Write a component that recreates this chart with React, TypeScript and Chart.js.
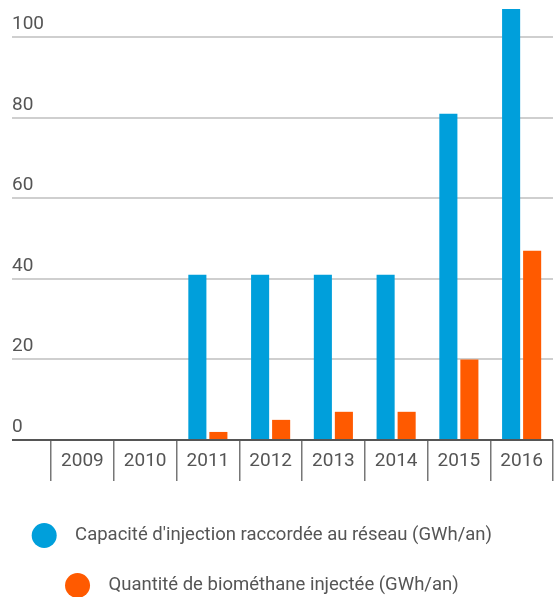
import React, { useEffect, useRef } from "react";
import { Chart, registerables } from "chart.js";

Chart.register(...registerables);

// ---- data ----
const years = ["2009", "2010", "2011", "2012", "2013", "2014", "2015", "2016"];
const capacity: (number | null)[] = [null, null, 41, 41, 41, 41, 81, 107];
const injected: (number | null)[] = [null, null, 2, 5, 7, 7, 20, 47];
const yTickValues = [0, 20, 40, 60, 80, 100];
const seriesNames = [
  "Capacité d'injection raccordée au réseau (GWh/an)",
  "Quantité de biométhane injectée (GWh/an)",
];

const BLUE = "#009fdb";
const ORANGE = "#ff5a00";
const FONT = "Roboto, 'Noto Sans', sans-serif";
const TEXT = "#555555";

export default function App() {
  const ref = useRef<HTMLCanvasElement | null>(null);

  useEffect(() => {
    if (!ref.current) return;
    const chart = new Chart(ref.current, {
      type: "bar",
      data: {
        labels: years,
        datasets: [
          {
            label: seriesNames[0],
            data: capacity,
            backgroundColor: BLUE,
            borderWidth: 0,
            categoryPercentage: 0.67,
            barPercentage: 0.86,
          },
          {
            label: seriesNames[1],
            data: injected,
            backgroundColor: ORANGE,
            borderWidth: 0,
            categoryPercentage: 0.67,
            barPercentage: 0.86,
          },
        ],
      },
      options: {
        animation: false,
        responsive: false,
        devicePixelRatio: 1,
        layout: { padding: { left: 12, right: 3, top: 5, bottom: 0 } },
        plugins: {
          tooltip: { enabled: false },
          legend: {
            position: "bottom",
            align: "center",
            labels: {
              boxWidth: 25,
              boxHeight: 25,
              useBorderRadius: true,
              borderRadius: 12.5,
              padding: 25,
              color: TEXT,
              font: { family: FONT, size: 18.5 },
              generateLabels: (c: any) => {
                const items = (Chart.defaults.plugins.legend.labels as any).generateLabels(c);
                return items.map((it: any) => ({
                  ...it,
                  text: "  " + it.text + "         ",
                  lineWidth: 0,
                  strokeStyle: "rgba(0,0,0,0)",
                }));
              },
            },
          },
        },
        scales: {
          x: {
            type: "category",
            grid: {
              offset: true,
              drawOnChartArea: false,
              drawTicks: true,
              tickLength: 41,
              color: "#777777",
              lineWidth: 1.5,
            },
            border: { display: false },
            ticks: {
              color: TEXT,
              font: { family: FONT, size: 19 },
              padding: -31,
              maxRotation: 0,
              autoSkip: false,
            },
            afterFit: (s: any) => {
              s.height = 58;
              s.paddingLeft = 0;
              s.paddingRight = 0;
            },
          },
          y: {
            type: "linear",
            position: "left",
            min: 0,
            max: 108,
            afterBuildTicks: (s: any) => {
              s.ticks = yTickValues.map((v) => ({ value: v }));
            },
            grid: {
              drawOnChartArea: true,
              drawTicks: true,
              tickLength: 39,
              lineWidth: 2,
              color: (ctx: any) =>
                ctx.tick && ctx.tick.value === 0 ? "#555555" : "#cfcfcf",
            },
            border: { display: false },
            ticks: {
              crossAlign: "far",
              labelOffset: -13,
              color: TEXT,
              font: { family: FONT, size: 19 },
            },
            afterFit: (s: any) => {
              s.width = 39;
              s.paddingTop = 0;
              s.paddingBottom = 0;
            },
          },
        },
      },
    } as any);
    return () => chart.destroy();
  }, []);

  return (
    <div
      style={{
        position: "fixed",
        left: 0,
        top: 0,
        width: 556,
        height: 597,
        overflow: "hidden",
        background: "#ffffff",
      }}
    >
      <canvas ref={ref} width={556} height={608} style={{ display: "block" }} />
    </div>
  );
}
